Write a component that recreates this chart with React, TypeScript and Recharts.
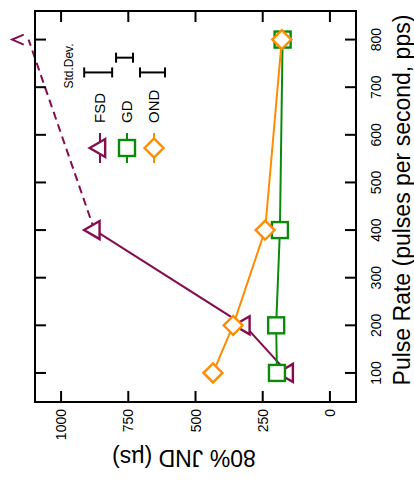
import React from 'react';
import {
  ComposedChart,
  Line,
  XAxis,
  YAxis,
  Scatter,
  ErrorBar,
  ReferenceLine,
  ReferenceDot,
  Customized,
} from 'recharts';

// ---------- data ----------
const pulseRates = [100, 200, 400, 800];
const fsdJnd = [157, 318, 876]; // FSD at 800 pps is off the chart
const gdJnd = [197, 200, 186, 176];
const ondJnd = [435, 360, 241, 179];
const fsdOffChartRate = 800;
const fsdOffChartJnd = 1121;
const fsdArrowJnd = 1182;

const xTicks = [100, 200, 300, 400, 500, 600, 700, 800];
const yTicks = [0, 250, 500, 750, 1000];

const seriesNames = ['FSD', 'GD', 'OND'];
const seriesColors = ['#860C50', '#0A8A0A', '#FF8C00'];
const stdDev = [104, 63, 93];
const stdDevRate = [731, 762, 731];
const stdDevCenter = [862, 764, 660];

const xTitle = 'Pulse Rate (pulses per second, pps)';
const yTitle = '80% JND (\u00b5s)';

// ---------- layout ----------
const W = 483;
const H = 414;
const FONT = '"Liberation Sans", Arial, Helvetica, sans-serif';

const fsdData = fsdJnd.map((y, i) => ({ x: pulseRates[i], y }));
const gdData = gdJnd.map((y, i) => ({ x: pulseRates[i], y }));
const ondData = ondJnd.map((y, i) => ({ x: pulseRates[i], y }));
const sdData = seriesNames.map((n, i) => ({
  name: n,
  x: stdDevRate[i],
  y: stdDevCenter[i],
  sd: stdDev[i] / 2,
}));

type Shape = 'triangle' | 'square' | 'diamond';
const shapes: Shape[] = ['triangle', 'square', 'diamond'];

function marker(shape: Shape, cx: number, cy: number, color: string, key?: any) {
  if (shape === 'triangle') {
    const h = 15.5;
    const hb = 9;
    const d = `M${cx},${cy - (2 * h) / 3} L${cx + hb},${cy + h / 3} L${cx - hb},${cy + h / 3} Z`;
    return <path key={key} d={d} fill="#fff" stroke={color} strokeWidth={2.4} strokeLinejoin="miter" />;
  }
  if (shape === 'square') {
    const s = 8;
    return (
      <rect key={key} x={cx - s} y={cy - s} width={2 * s} height={2 * s} fill="#fff" stroke={color} strokeWidth={2.4} />
    );
  }
  const r = 9.5;
  const d = `M${cx},${cy - r} L${cx + r},${cy} L${cx},${cy + r} L${cx - r},${cy} Z`;
  return <path key={key} d={d} fill="#fff" stroke={color} strokeWidth={2.4} />;
}

const dotFor = (i: number) => (p: any) => {
  if (p.cx == null || p.cy == null) return <g key={p.index} />;
  return marker(shapes[i], p.cx, p.cy, seriesColors[i], p.index);
};

const TICK = 11;

const BottomTick = (p: any) => (
  <g>
    <line x1={p.x} x2={p.x} y1={p.y} y2={p.y - TICK} stroke="#000" strokeWidth={2} />
    <text x={p.x} y={p.y + 20} textAnchor="middle" dominantBaseline="central" fontSize={14} fill="#000" fontFamily={FONT}>
      {p.payload.value}
    </text>
  </g>
);
const TopTick = (p: any) => (
  <line x1={p.x} x2={p.x} y1={p.y} y2={p.y + TICK} stroke="#000" strokeWidth={2} />
);
const LeftTick = (p: any) => (
  <g>
    <line x1={p.x} x2={p.x + TICK} y1={p.y} y2={p.y} stroke="#000" strokeWidth={2} />
    <text x={p.x - 7} y={p.y} textAnchor="end" dominantBaseline="central" fontSize={14} fill="#000" fontFamily={FONT}>
      {p.payload.value}
    </text>
  </g>
);
const RightTick = (p: any) => (
  <line x1={p.x} x2={p.x - TICK} y1={p.y} y2={p.y} stroke="#000" strokeWidth={2} />
);

const legendRows = [100, 127, 154];

const Decorations = () => (
  <g fontFamily={FONT}>
    {/* axis titles */}
    <text x={283} y={402} textAnchor="middle" dominantBaseline="central" fontSize={23} fill="#000">
      {xTitle}
    </text>
    <text
      x={25}
      y={184}
      transform="rotate(-90 25 184)"
      textAnchor="middle"
      dominantBaseline="central"
      fontSize={23}
      fill="#000"
    >
      {yTitle}
    </text>
    {/* legend */}
    <text x={417} y={69} textAnchor="middle" dominantBaseline="central" fontSize={12} fill="#000">
      Std.Dev.
    </text>
    {seriesNames.map((n, i) => (
      <g key={n}>
        <line x1={320} x2={350} y1={legendRows[i]} y2={legendRows[i]} stroke={seriesColors[i]} strokeWidth={2} />
        {marker(shapes[i], 335, legendRows[i], seriesColors[i])}
        <text x={360} y={legendRows[i] - 1} dominantBaseline="central" fontSize={15} fill="#000">
          {n}
        </text>
      </g>
    ))}
  </g>
);

const arrowShape = (p: any) => (
  <path
    d={`M${p.cx - 5},${p.cy + 11.6} L${p.cx},${p.cy} L${p.cx + 5},${p.cy + 11.6}`}
    fill="none"
    stroke={seriesColors[0]}
    strokeWidth={2}
  />
);

const axisLine = { stroke: '#000', strokeWidth: 2, strokeLinecap: 'square' as const };

export default function App() {
  return (
    <div
      style={{
        position: 'absolute',
        left: 0,
        top: 0,
        width: 414,
        height: 483,
        overflow: 'hidden',
        background: '#fff',
      }}
    >
      <div
        style={{
          position: 'absolute',
          left: 0,
          top: 0,
          width: W,
          height: H,
          transformOrigin: '0 0',
          transform: `translateY(${W}px) rotate(-90deg)`,
        }}
      >
        <ComposedChart width={W} height={H} margin={{ top: 0, right: 0, bottom: 0, left: 0 }}>
          <XAxis
            xAxisId="b"
            type="number"
            dataKey="x"
            orientation="bottom"
            domain={[39, 860]}
            allowDataOverflow
            ticks={xTicks}
            interval={0}
            height={58}
            tickSize={0}
            tickMargin={0}
            tickLine={false}
            axisLine={axisLine}
            tick={<BottomTick />}
          />
          <XAxis
            xAxisId="t"
            type="number"
            dataKey="x"
            orientation="top"
            domain={[39, 860]}
            allowDataOverflow
            ticks={xTicks}
            interval={0}
            height={35}
            tickSize={0}
            tickMargin={0}
            tickLine={false}
            axisLine={axisLine}
            tick={<TopTick />}
          />
          <YAxis
            yAxisId="l"
            type="number"
            dataKey="y"
            orientation="left"
            domain={[-97, 1097]}
            allowDataOverflow
            ticks={yTicks}
            interval={0}
            width={81}
            tickSize={0}
            tickMargin={0}
            tickLine={false}
            axisLine={axisLine}
            tick={<LeftTick />}
          />
          <YAxis
            yAxisId="r"
            type="number"
            dataKey="y"
            orientation="right"
            domain={[-97, 1097]}
            allowDataOverflow
            ticks={yTicks}
            interval={0}
            width={11}
            tickSize={0}
            tickMargin={0}
            tickLine={false}
            axisLine={axisLine}
            tick={<RightTick />}
          />
          <ReferenceLine
            xAxisId="b"
            yAxisId="l"
            segment={[
              { x: pulseRates[2], y: fsdJnd[2] },
              { x: fsdOffChartRate, y: fsdOffChartJnd },
            ]}
            stroke={seriesColors[0]}
            strokeWidth={2}
            strokeDasharray="8 5"
            ifOverflow="visible"
          />
          <ReferenceDot
            xAxisId="b"
            yAxisId="l"
            x={fsdOffChartRate}
            y={fsdArrowJnd}
            ifOverflow="visible"
            shape={arrowShape}
          />
          <Line
            xAxisId="b"
            yAxisId="l"
            data={fsdData}
            dataKey="y"
            type="linear"
            stroke={seriesColors[0]}
            strokeWidth={2}
            dot={dotFor(0)}
            activeDot={false}
            isAnimationActive={false}
          />
          <Line
            xAxisId="b"
            yAxisId="l"
            data={gdData}
            dataKey="y"
            type="linear"
            stroke={seriesColors[1]}
            strokeWidth={2}
            dot={dotFor(1)}
            activeDot={false}
            isAnimationActive={false}
          />
          <Line
            xAxisId="b"
            yAxisId="l"
            data={ondData}
            dataKey="y"
            type="linear"
            stroke={seriesColors[2]}
            strokeWidth={2}
            dot={dotFor(2)}
            activeDot={false}
            isAnimationActive={false}
          />
          <Scatter
            xAxisId="b"
            yAxisId="l"
            data={sdData}
            dataKey="y"
            shape={() => <g />}
            isAnimationActive={false}
          >
            <ErrorBar dataKey="sd" direction="y" width={5} stroke="#000" strokeWidth={2} isAnimationActive={false} />
          </Scatter>
          <Customized component={Decorations} />
        </ComposedChart>
      </div>
    </div>
  );
}
